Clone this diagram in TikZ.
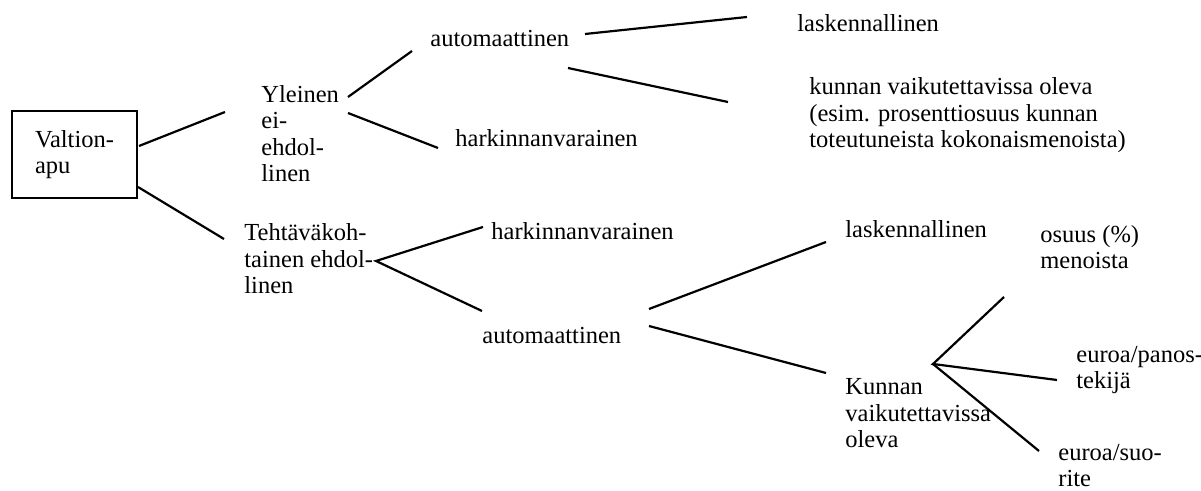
\documentclass[tikz,border=0pt]{standalone}
\usepackage{fontspec}
\setmainfont{Liberation Serif}
\usepackage{tikz}

\tikzset{
  txt/.style={anchor=base west, inner sep=0pt, align=left},
  haara/.style={line width=1.1pt},
}

\begin{document}
\begin{tikzpicture}[x=0.5pt,y=0.5pt,yscale=-1,xscale=1,font=\fontsize{12.25}{13.25}\selectfont]
        \useasboundingbox (0,0) rectangle (1201,491);

        \node [draw, line width=1pt, minimum width=62.5pt, minimum height=43.5pt, align=left] (valtio) at (74.5,154.5) {Valtion-\\apu};
        \node [txt] (ylein) at (261,182) {Yleinen\\ei-\\ehdol-\\linen};
        \node [txt] (auto1) at (430,47) {automaattinen};
        \node [txt] (hark1) at (455,147) {harkinnanvarainen};
        \node [txt] (lask1) at (797,32) {laskennallinen};
        \node [txt] (kunn1) at (809,148) {kunnan vaikutettavissa oleva\\(esim. prosenttiosuus kunnan\\toteutuneista kokonaismenoista)};
        \node [txt] (teht) at (244,294) {Tehtäväkoh-\\tainen ehdol-\\linen};
        \node [txt] (hark2) at (491,240) {harkinnanvarainen};
        \node [txt] (auto2) at (482,344) {automaattinen};
        \node [txt] (lask2) at (845,238) {laskennallinen};
        \node [txt] (kunn2) at (845,448) {Kunnan\\vaikutettavissa\\oleva};
        \node [txt] (osuus) at (1040,269) {osuus (\%)\\menoista};
        \node [txt] (panos) at (1076,389) {euroa/panos-\\tekijä};
        \node [txt] (suo) at (1058,487) {euroa/suo-\\rite};

        \draw [haara] ([shift={(1,-8.5)}]valtio.east) -- ([shift={(-36,-70)}]ylein.base west);
        \draw [haara] ([shift={(0,32.5)}]valtio.east) -- ([shift={(-20,-55)}]teht.base west);
        \draw [haara] ([shift={(87,-85)}]ylein.base west) -- ([shift={(-18,4)}]auto1.base west);
        \draw [haara] ([shift={(87,-69)}]ylein.base west) -- ([shift={(-17,1)}]hark1.base west);
        \draw [haara] ([shift={(155,-13)}]auto1.base west) -- ([shift={(-50,-15)}]lask1.base west);
        \draw [haara] ([shift={(138,21)}]auto1.base west) -- ([shift={(-81,-46)}]kunn1.base west);
        \draw [haara] ([shift={(-8,-13)}]hark2.base west) -- ([shift={(132,-33)}]teht.base west) -- ([shift={(0,-33)}]auto2.base west);
        \draw [haara] ([shift={(167,-35)}]auto2.base west) -- ([shift={(-19,4)}]lask2.base west);
        \draw [haara] ([shift={(167,-18)}]auto2.base west) -- ([shift={(-19,-75)}]kunn2.base west);
        \draw [haara] ([shift={(-36,28)}]osuus.base west) -- ([shift={(88,-84)}]kunn2.base west) -- ([shift={(-19,-9)}]panos.base west);
        \draw [haara] ([shift={(88,-84)}]kunn2.base west) -- ([shift={(-19,-36)}]suo.base west);

\end{tikzpicture}
\end{document}
